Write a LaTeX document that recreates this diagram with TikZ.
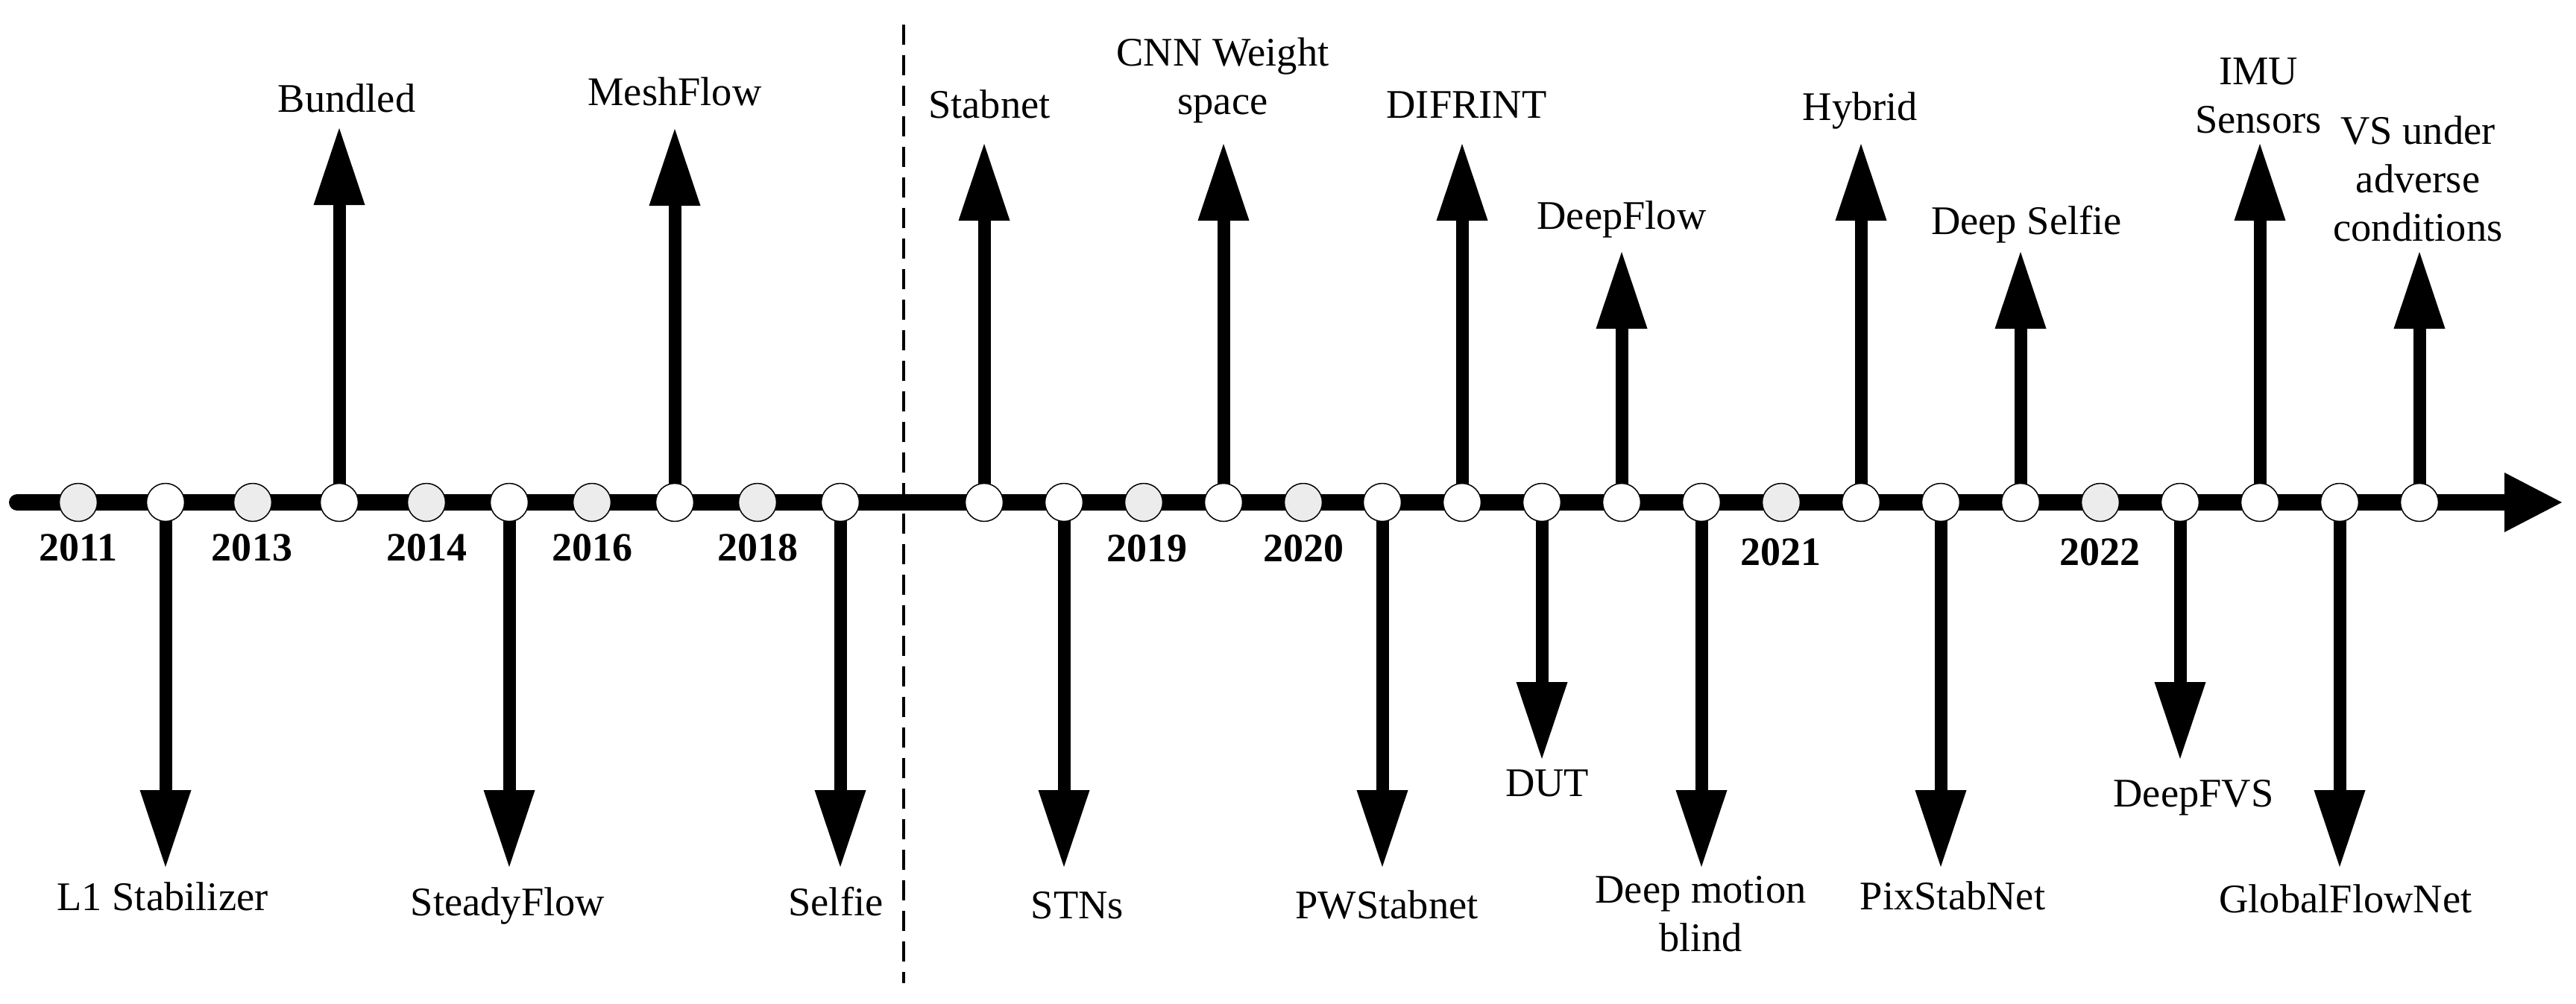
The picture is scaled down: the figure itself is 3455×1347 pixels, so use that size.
\documentclass[tikz,border=0pt]{standalone}
\usepackage{fontspec}
\setmainfont{Liberation Serif}
\usetikzlibrary{arrows.meta,backgrounds}

\begin{document}
\begin{tikzpicture}[x=0.2pt, y=-0.2pt,
    dot/.style={circle, draw, line width=0.3pt, minimum size=10.2pt, inner sep=0pt},
    year/.style={font=\fontsize{10.8pt}{13pt}\selectfont\bfseries, anchor=base, inner sep=0pt},
    tag/.style={font=\fontsize{10.9pt}{13pt}\selectfont, align=center, anchor=base, inner sep=0pt},
    axis/.style={line width=4.4pt, line cap=round, -{Triangle[width=16pt, length=15.4pt, line width=0pt]}},
    event/.style={line width=3.4pt, -{Triangle[width=13.8pt, length=20.6pt, line width=0pt]}},
    divider/.style={line width=0.8pt, dash pattern=on 5.4pt off 2.8pt}]

    \useasboundingbox (0,0) rectangle (3455,1347);

    % Axis ends and the dashed divider
    \coordinate (start) at (23,674);
    \coordinate (end) at (3436,674);
    \coordinate (divtop) at (1212,33);
    \coordinate (divbot) at (1212,1319);

    % Dots on the axis (grey = year, white = method)
    \foreach \i/\x/\f in {1/105/gray!15, 2/222/white, 3/339/gray!15, 4/455/white, 5/572/gray!15,
        6/683/white, 7/794/gray!15, 8/905/white, 9/1016/gray!15, 10/1127/white,
        11/1320/white, 12/1427/white, 13/1534/gray!15, 14/1641/white, 15/1748/gray!15,
        16/1854/white, 17/1961/white, 18/2068/white, 19/2175/white, 20/2282/white,
        21/2389/gray!15, 22/2496/white, 23/2603/white, 24/2710/white, 25/2817/gray!15,
        26/2924/white, 27/3031/white, 28/3138/white, 29/3245/white}
        \node [dot, fill=\f] (d\i) at (\x,674) {};

    % Years
    \foreach \yr/\x/\y in {2011/105/752, 2013/338/752, 2014/572/752, 2016/794/752, 2018/1016/752,
        2019/1538/753, 2020/1748/753, 2021/2388/758, 2022/2816/758}
        \node [year] (y\yr) at (\x,\y) {\yr};

    % Methods: dot, arrow tip, label (base = last line)
    \foreach \i/\tip/\tx/\ty/\txt in {4/172/465/150/Bundled, 8/173/905/141/MeshFlow,
        11/193/1327/158/Stabnet, 14/193/1640/153/{CNN Weight\\space}, 17/193/1967/158/DIFRINT,
        19/338/2175/307/DeepFlow, 22/193/2495/161/Hybrid, 24/338/2718/314/{Deep Selfie},
        27/193/3029/178/{IMU\\Sensors}, 29/338/3243/323/{VS under\\adverse\\conditions},
        2/1163/218/1221/{L1 Stabilizer}, 6/1163/681/1228/SteadyFlow, 10/1163/1121/1228/Selfie,
        12/1163/1445/1232/STNs, 16/1163/1860/1232/PWStabnet, 18/1018/2075/1068/DUT,
        20/1163/2281/1276/{Deep motion\\blind}, 23/1163/2619/1220/PixStabNet,
        26/1018/2942/1082/DeepFVS, 28/1163/3146/1224/GlobalFlowNet}{
        \coordinate (e\i) at (d\i |- 0,\tip);
        \node [tag] (t\i) at (\tx,\ty) {\txt};
    }

    % Lines behind the dots
    \begin{scope}[on background layer]
        \draw [axis] (start) -- (end);
        \draw [divider] (divtop) -- (divbot);
        \foreach \i in {2,4,6,8,10,11,12,14,16,17,18,19,20,22,23,24,26,27,28,29}
            \draw [event] (d\i.center) -- (e\i);
    \end{scope}
\end{tikzpicture}
\end{document}
